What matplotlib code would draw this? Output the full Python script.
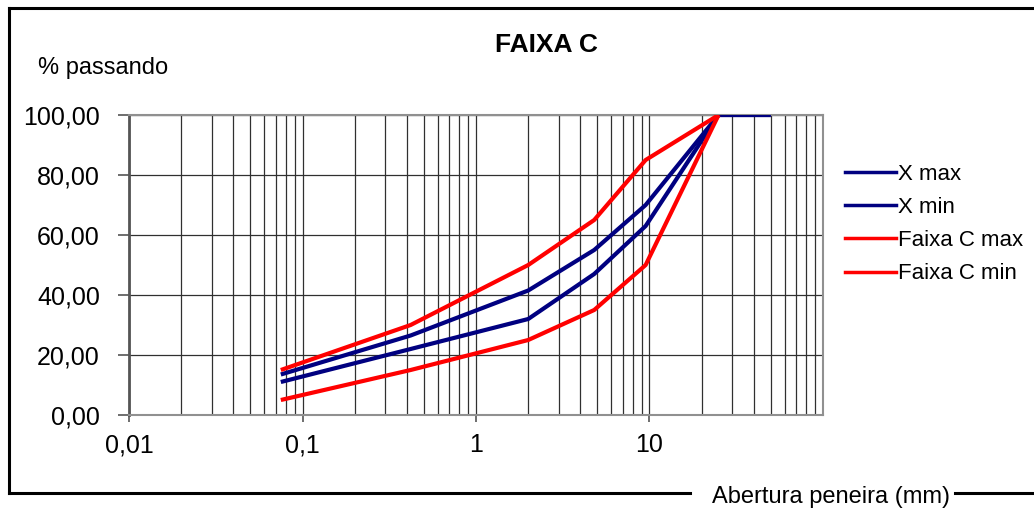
import matplotlib
matplotlib.use("Agg")
import matplotlib.pyplot as plt
from matplotlib.lines import Line2D
from matplotlib.ticker import FixedLocator, NullFormatter

plt.rcParams["font.family"] = ["Liberation Sans", "DejaVu Sans"]

# sieve openings (mm) and % passing
sieves = [0.075, 0.42, 2.0, 4.8, 9.5, 25.0, 50.0]
x_max = [13.5, 26.5, 41.5, 55.0, 70.0, 100.0, 100.0]
x_min = [11.0, 22.0, 32.0, 47.0, 63.0, 100.0, 100.0]
band_sieves = [0.075, 0.42, 2.0, 4.8, 9.5, 25.0]
faixa_max = [15.0, 30.0, 50.0, 65.0, 85.0, 100.0]
faixa_min = [5.0, 15.0, 25.0, 35.0, 50.0, 100.0]

x_ticks = [0.01, 0.1, 1, 10]
x_tick_labels = ["0,01", "0,1", "1", "10"]
y_ticks = [0, 20, 40, 60, 80, 100]
y_tick_labels = ["0,00", "20,00", "40,00", "60,00", "80,00", "100,00"]

fig = plt.figure(figsize=(10.34, 5.11), dpi=100)
ax = fig.add_axes([129 / 1034, 1 - 415 / 511, (823 - 129) / 1034, 300 / 511])

navy = "#000080"
red = "#ff0000"
ax.plot(sieves, x_max, color=navy, lw=3, label="X max", solid_capstyle="butt", zorder=3)
ax.plot(sieves, x_min, color=navy, lw=3, label="X min", solid_capstyle="butt", zorder=3)
ax.plot(band_sieves, faixa_max, color=red, lw=3, label="Faixa C max", solid_capstyle="butt", zorder=4)
ax.plot(band_sieves, faixa_min, color=red, lw=3, label="Faixa C min", solid_capstyle="butt", zorder=4)

ax.set_xscale("log")
ax.set_xlim(0.01, 100)
ax.set_ylim(0, 100)

# minor grid lines (2..9 per decade)
minors = [m * 10.0 ** e for e in range(-2, 2) for m in range(2, 10)]
ax.xaxis.set_minor_locator(FixedLocator(minors))
ax.xaxis.set_minor_formatter(NullFormatter())
ax.set_xticks(x_ticks)
ax.set_xticklabels(x_tick_labels)
ax.set_yticks(y_ticks)
ax.set_yticklabels(y_tick_labels)
ax.grid(True, which="both", axis="x", color="#303030", lw=0.9)
ax.grid(True, which="major", axis="y", color="#303030", lw=0.9)
ax.set_axisbelow(True)

ax.tick_params(axis="x", which="minor", length=0)
ax.tick_params(axis="x", which="major", length=5, width=1.2, color="#555555",
               labelsize=18, pad=8)
ax.tick_params(axis="y", length=8, width=1.2, color="#555555", labelsize=18, pad=13)

for s in ["top", "right", "bottom"]:
    ax.spines[s].set_color("#909090")
    ax.spines[s].set_linewidth(1.5)
ax.spines["left"].set_color("#555555")
ax.spines["left"].set_linewidth(2)

fig.text(546 / 1034, 1 - 45 / 511, "FAIXA C", ha="center", va="center",
         fontsize=19, fontweight="bold")
fig.text(38 / 1034, 1 - 68 / 511, "% passando", ha="left", va="center", fontsize=17)
fig.text(831 / 1034, 1 - 497 / 511, "Abertura peneira (mm)", ha="center", va="center",
         fontsize=17)

handles = [Line2D([], [], color=navy, lw=2.5), Line2D([], [], color=navy, lw=2.5),
           Line2D([], [], color=red, lw=2.5), Line2D([], [], color=red, lw=2.5)]
fig.legend(handles, ["X max", "X min", "Faixa C max", "Faixa C min"],
           loc="center left", bbox_to_anchor=(834 / 1034, 1 - 224 / 511),
           frameon=False, fontsize=16, handlelength=2.3, handletextpad=0.1,
           labelspacing=0.55, borderpad=0)

# outer frame, bottom edge broken by the x-axis title
frame = dict(color="black", lw=2.2, transform=fig.transFigure, clip_on=False)
fig.add_artist(Line2D([9 / 1034, 1.0], [1 - 8 / 511, 1 - 8 / 511], **frame))
fig.add_artist(Line2D([9 / 1034, 9 / 1034], [1 - 8 / 511, 1 - 493 / 511], **frame))
fig.add_artist(Line2D([9 / 1034, 690 / 1034], [1 - 493 / 511, 1 - 493 / 511], **frame))
fig.add_artist(Line2D([955 / 1034, 1.0], [1 - 493 / 511, 1 - 493 / 511], **frame))

fig.savefig("out.png", dpi=100)
